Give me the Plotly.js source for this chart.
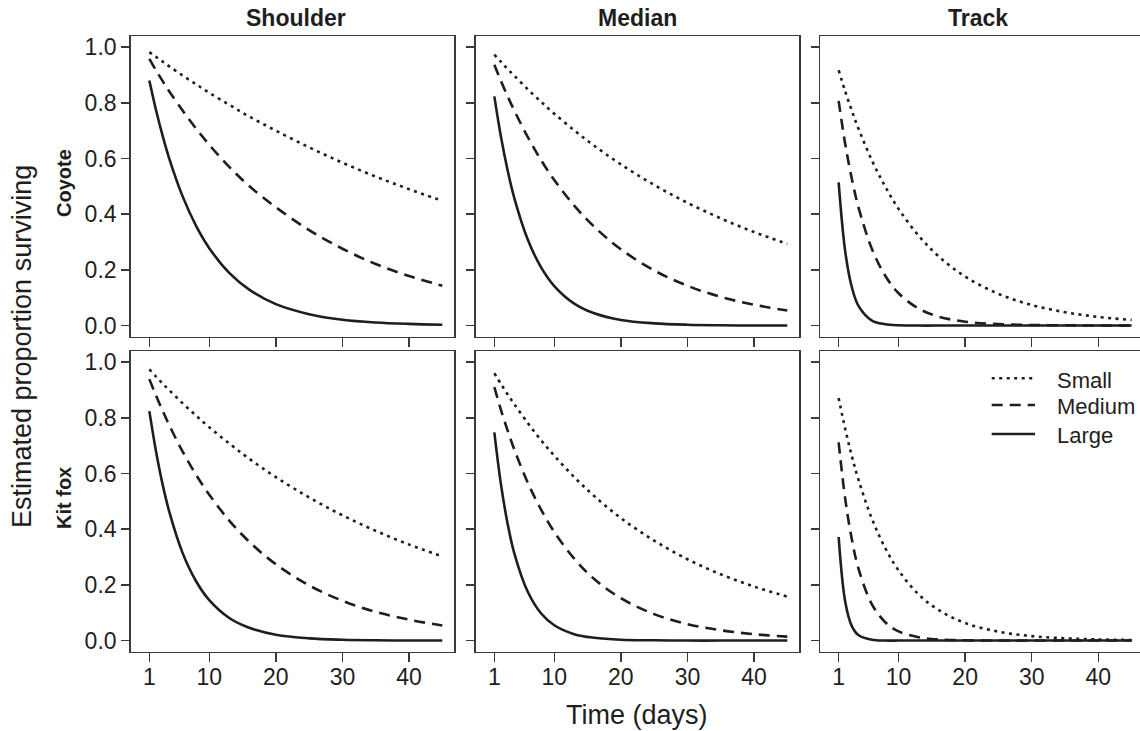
<!DOCTYPE html>
<html>
<head>
<meta charset="utf-8">
<script src="https://cdn.plot.ly/plotly-3.0.1.min.js"></script>
<style>
  html, body { margin: 0; padding: 0; background: #fff; }
  #chart { width: 1140px; height: 731px; }
</style>
</head>
<body>
<div id="chart"></div>
<script>
// ---------- data ----------
const days = [1, 2, 3, 4, 6, 8, 10, 13, 16, 20, 25, 30, 35, 40, 45];

const sizeClasses = ["Small", "Medium", "Large"];
const locations = ["Shoulder", "Median", "Track"];
const species = ["Coyote", "Kit fox"];

const coyoteShoulderSmall  = [0.982, 0.965, 0.948, 0.931, 0.898, 0.867, 0.836, 0.793, 0.751, 0.700, 0.640, 0.585, 0.535, 0.490, 0.448];
const coyoteShoulderMedium = [0.958, 0.917, 0.878, 0.841, 0.772, 0.708, 0.649, 0.570, 0.501, 0.425, 0.343, 0.276, 0.221, 0.178, 0.143];
const coyoteShoulderLarge  = [0.880, 0.774, 0.681, 0.599, 0.464, 0.359, 0.278, 0.189, 0.129, 0.077, 0.041, 0.021, 0.011, 0.006, 0.003];

const coyoteMedianSmall  = [0.973, 0.947, 0.921, 0.897, 0.849, 0.804, 0.761, 0.701, 0.646, 0.579, 0.505, 0.441, 0.385, 0.336, 0.293];
const coyoteMedianMedium = [0.937, 0.878, 0.823, 0.772, 0.678, 0.595, 0.523, 0.431, 0.355, 0.274, 0.198, 0.143, 0.103, 0.075, 0.054];
const coyoteMedianLarge  = [0.823, 0.677, 0.557, 0.458, 0.310, 0.210, 0.142, 0.079, 0.044, 0.020, 0.008, 0.003, 0.001, 0.000, 0.000];

const coyoteTrackSmall  = [0.917, 0.840, 0.770, 0.706, 0.593, 0.499, 0.419, 0.323, 0.249, 0.176, 0.114, 0.074, 0.048, 0.031, 0.020];
const coyoteTrackMedium = [0.807, 0.650, 0.525, 0.423, 0.275, 0.179, 0.116, 0.061, 0.032, 0.014, 0.005, 0.002, 0.001, 0.000, 0.000];
const coyoteTrackLarge  = [0.514, 0.264, 0.136, 0.070, 0.018, 0.005, 0.001, 0.000, 0.000, 0.000, 0.000, 0.000, 0.000, 0.000, 0.000];

const kitfoxShoulderSmall  = [0.974, 0.948, 0.923, 0.899, 0.852, 0.808, 0.766, 0.708, 0.653, 0.587, 0.514, 0.450, 0.394, 0.345, 0.302];
const kitfoxShoulderMedium = [0.939, 0.880, 0.825, 0.773, 0.679, 0.596, 0.524, 0.431, 0.355, 0.274, 0.198, 0.143, 0.103, 0.075, 0.054];
const kitfoxShoulderLarge  = [0.824, 0.680, 0.560, 0.462, 0.314, 0.214, 0.145, 0.081, 0.046, 0.021, 0.008, 0.003, 0.001, 0.000, 0.000];

const kitfoxMedianSmall  = [0.960, 0.921, 0.884, 0.849, 0.782, 0.720, 0.664, 0.587, 0.519, 0.440, 0.359, 0.292, 0.238, 0.194, 0.158];
const kitfoxMedianMedium = [0.910, 0.828, 0.754, 0.686, 0.568, 0.471, 0.390, 0.294, 0.221, 0.152, 0.095, 0.059, 0.037, 0.023, 0.014];
const kitfoxMedianLarge  = [0.748, 0.560, 0.419, 0.313, 0.176, 0.098, 0.055, 0.023, 0.010, 0.003, 0.001, 0.000, 0.000, 0.000, 0.000];

const kitfoxTrackSmall  = [0.871, 0.759, 0.661, 0.576, 0.437, 0.332, 0.252, 0.166, 0.110, 0.063, 0.032, 0.016, 0.008, 0.004, 0.002];
const kitfoxTrackMedium = [0.712, 0.507, 0.361, 0.257, 0.130, 0.066, 0.033, 0.012, 0.004, 0.001, 0.000, 0.000, 0.000, 0.000, 0.000];
const kitfoxTrackLarge  = [0.372, 0.138, 0.051, 0.019, 0.003, 0.000, 0.000, 0.000, 0.000, 0.000, 0.000, 0.000, 0.000, 0.000, 0.000];

const xTickVals = [1, 10, 20, 30, 40];
const yTickVals = [0, 0.2, 0.4, 0.6, 0.8, 1.0];
const yTickText = ["0.0", "0.2", "0.4", "0.6", "0.8", "1.0"];

// ---------- styling ----------
const FONT = "Liberation Sans, Arial, Helvetica, sans-serif";
const INK = "#1e1e1e";
const FRAME = "#3a3a3a";
const W = 1140, H = 731;
const dashFor = { Small: "3px,4.5px", Medium: "11px,7px", Large: "solid" };

// panel grid: [row][col] -> series arrays (Small, Medium, Large)
const panels = [
  [[coyoteShoulderSmall, coyoteShoulderMedium, coyoteShoulderLarge],
   [coyoteMedianSmall, coyoteMedianMedium, coyoteMedianLarge],
   [coyoteTrackSmall, coyoteTrackMedium, coyoteTrackLarge]],
  [[kitfoxShoulderSmall, kitfoxShoulderMedium, kitfoxShoulderLarge],
   [kitfoxMedianSmall, kitfoxMedianMedium, kitfoxMedianLarge],
   [kitfoxTrackSmall, kitfoxTrackMedium, kitfoxTrackLarge]]
];

// pixel geometry of the panel frames
const colPx = [[130.7, 454.3], [475.7, 799.3], [820, 1140]];
const rowPx = [[36, 336.7], [351, 651.7]];
const pxPerDay = 323.6 / 48.6;

const traces = [];
const layout = {
  width: W, height: H,
  margin: { l: 0, r: 0, t: 0, b: 0, pad: 0 },
  paper_bgcolor: "#fff", plot_bgcolor: "#fff",
  showlegend: false,
  font: { family: FONT, color: INK, size: 23 },
  annotations: [], shapes: []
};

for (let r = 0; r < 2; r++) {
  for (let c = 0; c < 3; c++) {
    const idx = r * 3 + c + 1;
    const xa = idx === 1 ? "x" : "x" + idx;
    const ya = idx === 1 ? "y" : "y" + idx;
    const xKey = idx === 1 ? "xaxis" : "xaxis" + idx;
    const yKey = idx === 1 ? "yaxis" : "yaxis" + idx;
    const widthPx = colPx[c][1] - colPx[c][0];
    const xMin = -1.8;
    const xMax = xMin + widthPx / pxPerDay;
    layout[xKey] = {
      domain: [colPx[c][0] / W, colPx[c][1] / W],
      anchor: ya,
      range: [xMin, xMax],
      showgrid: false, zeroline: false,
      showline: true, mirror: true, linecolor: FRAME, linewidth: 1.5,
      ticks: "outside", ticklen: 9, tickwidth: 1.5, tickcolor: FRAME,
      tickvals: xTickVals,
      showticklabels: r === 1,
      ticklabelstandoff: -5,
      tickfont: { family: FONT, size: 23, color: INK },
      fixedrange: true
    };
    layout[yKey] = {
      domain: [1 - rowPx[r][1] / H, 1 - rowPx[r][0] / H],
      anchor: xa,
      range: [-0.04, 1.04],
      showgrid: false, zeroline: false,
      showline: true, mirror: true, linecolor: FRAME, linewidth: 1.5,
      ticks: "outside", ticklen: 8, tickwidth: 1.5, tickcolor: FRAME,
      tickvals: yTickVals, ticktext: yTickText,
      showticklabels: c === 0,
      tickfont: { family: FONT, size: 23, color: INK },
      fixedrange: true
    };
    panels[r][c].forEach((vals, k) => {
      const name = sizeClasses[k];
      traces.push({
        type: "scatter", mode: "lines",
        x: days, y: vals,
        xaxis: xa, yaxis: ya,
        name: name,
        line: { color: INK, width: 2.6, dash: dashFor[name], shape: "spline", smoothing: 1 },
        hoverinfo: "skip"
      });
    });
  }
}

// column titles
const colTitleX = [296, 637, 978];
locations.forEach((t, i) => layout.annotations.push({
  text: "<b>" + t + "</b>", xref: "paper", yref: "paper",
  x: colTitleX[i] / W, y: 1 - 18 / H, xanchor: "center", yanchor: "middle",
  showarrow: false, font: { family: FONT, size: 23, color: INK }
}));
// row labels
const rowLabelY = [183, 498];
species.forEach((t, i) => layout.annotations.push({
  text: "<b>" + t + "</b>", xref: "paper", yref: "paper",
  x: 64 / W, y: 1 - rowLabelY[i] / H, xanchor: "center", yanchor: "middle",
  textangle: -90, showarrow: false, font: { family: FONT, size: 20, color: INK }
}));
// axis titles
layout.annotations.push({
  text: "Estimated proportion surviving", xref: "paper", yref: "paper",
  x: 22 / W, y: 1 - 347 / H, xanchor: "center", yanchor: "middle",
  textangle: -90, showarrow: false, font: { family: FONT, size: 27, color: INK }
});
layout.annotations.push({
  text: "Time (days)", xref: "paper", yref: "paper",
  x: 637 / W, y: 1 - 715 / H, xanchor: "center", yanchor: "middle",
  showarrow: false, font: { family: FONT, size: 27, color: INK }
});

// legend (drawn in the Kit fox / Track panel, as in the reference)
const legendLineY = [378.3, 405, 434];
const legendTextY = [380, 407, 435.5];
sizeClasses.forEach((name, i) => {
  layout.shapes.push({
    type: "line", xref: "paper", yref: "paper",
    x0: 991.7 / W, x1: 1035 / W,
    y0: 1 - legendLineY[i] / H, y1: 1 - legendLineY[i] / H,
    line: { color: INK, width: 2.6, dash: dashFor[name] }
  });
  layout.annotations.push({
    text: name, xref: "paper", yref: "paper",
    x: 1055 / W, y: 1 - legendTextY[i] / H, xanchor: "left", yanchor: "middle",
    showarrow: false, font: { family: FONT, size: 22, color: INK }
  });
});

Plotly.newPlot("chart", traces, layout, { displayModeBar: false, staticPlot: true });
</script>
</body>
</html>
